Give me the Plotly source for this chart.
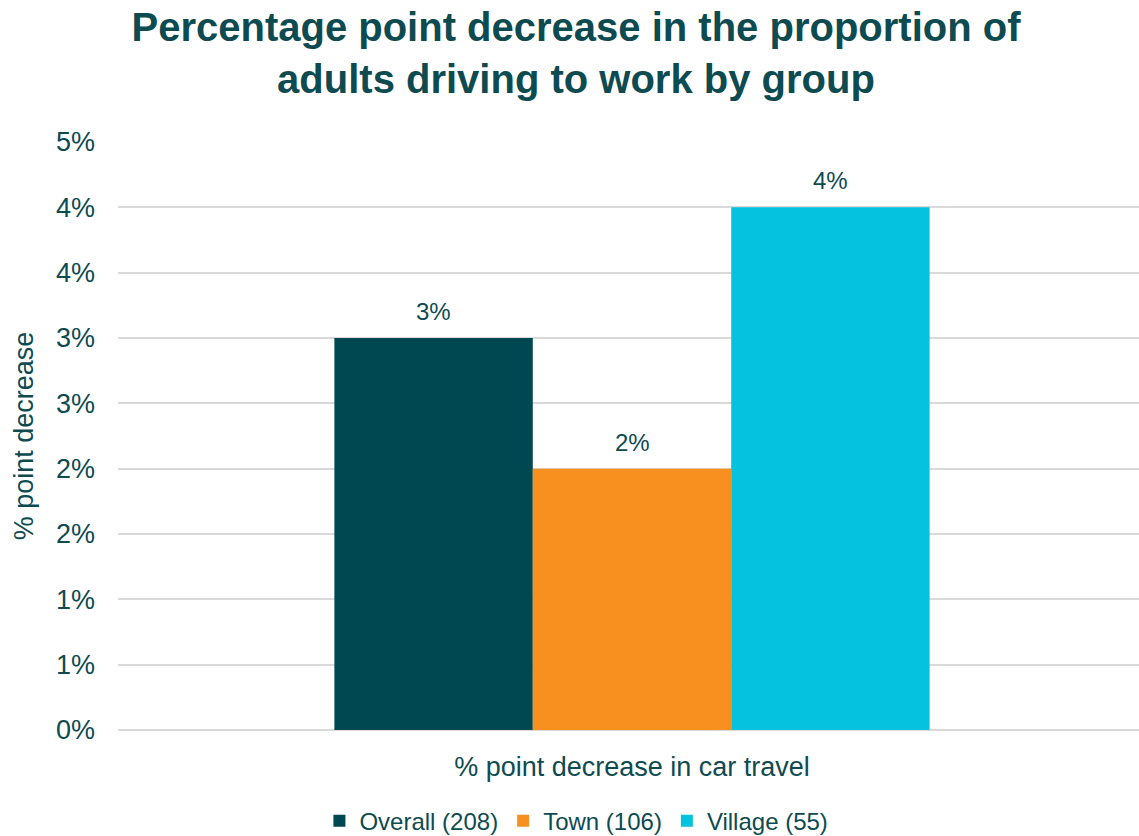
import plotly.graph_objects as go

# Category shown on the x axis
category = ["% point decrease in car travel"]

# Groups (with sample sizes) and their percentage-point decreases
groups = ["Overall (208)", "Town (106)", "Village (55)"]
decrease_pct = [3, 2, 4]
colors = ["#004851", "#F7901E", "#05C3DE"]

# Y axis ticks every half point, labelled to whole percentages
y_tickvals = [0, 0.5, 1, 1.5, 2, 2.5, 3, 3.5, 4, 4.5]
y_ticktext = ["0%", "1%", "1%", "2%", "2%", "3%", "3%", "4%", "4%", "5%"]

TEXT = "#0E4B51"
FONT = "Liberation Sans, Arial, sans-serif"

W, H = 1139, 836
M_L, M_R, M_T, M_B = 118, 0, 142, 106
BARGAP = 0.421
X_RANGE = [-0.5, 0.4932]

fig = go.Figure()
for name, val, col in zip(groups, decrease_pct, colors):
    fig.add_trace(go.Bar(
        x=category,
        y=[val],
        name=name,
        marker=dict(color=col, line=dict(width=0)),
        cliponaxis=False,
    ))

# Value labels above each bar, shifted to the centre of its slot in the group
plot_w = W - M_L - M_R
bar_px = plot_w / (X_RANGE[1] - X_RANGE[0]) * (1 - BARGAP) / len(groups)
for i, val in enumerate(decrease_pct):
    fig.add_annotation(
        x=category[0], y=val, xref="x", yref="y",
        text=f"{val}%", showarrow=False,
        xshift=(i - (len(groups) - 1) / 2) * bar_px,
        yanchor="bottom", yshift=11,
        font=dict(size=24, color=TEXT, family=FONT),
    )

fig.update_layout(
    width=W,
    height=H,
    paper_bgcolor="white",
    plot_bgcolor="white",
    margin=dict(l=M_L, r=M_R, t=M_T, b=M_B, autoexpand=False),
    font=dict(family=FONT, color=TEXT),
    barmode="group",
    bargap=BARGAP,
    bargroupgap=0,
    title=dict(
        text="<b>Percentage point decrease in the proportion of<br>adults driving to work by group</b>",
        x=0.5057,
        xanchor="center",
        xref="container",
        y=0.951,
        yref="container",
        yanchor="top",
        font=dict(size=40, color=TEXT, family=FONT),
    ),
    legend=dict(
        orientation="h",
        x=0.449,
        xanchor="center",
        y=-0.155,
        yanchor="middle",
        font=dict(size=24, color=TEXT, family=FONT),
        itemwidth=30,
        traceorder="normal",
    ),
)

fig.update_xaxes(
    range=X_RANGE,
    showgrid=False,
    showline=False,
    ticks="",
    ticklabelstandoff=18,
    tickfont=dict(size=27, color=TEXT, family=FONT),
)

fig.update_yaxes(
    range=[0, 4.5],
    tickvals=y_tickvals,
    ticktext=y_ticktext,
    showgrid=True,
    gridcolor="#D9D9D9",
    gridwidth=1.5,
    zeroline=True,
    zerolinecolor="#D9D9D9",
    zerolinewidth=1.5,
    showline=False,
    ticks="",
    ticklabelstandoff=22,
    tickfont=dict(size=27, color=TEXT, family=FONT),
    title=dict(text="% point decrease", standoff=14,
               font=dict(size=27, color=TEXT, family=FONT)),
)

fig.write_html("out.html")
